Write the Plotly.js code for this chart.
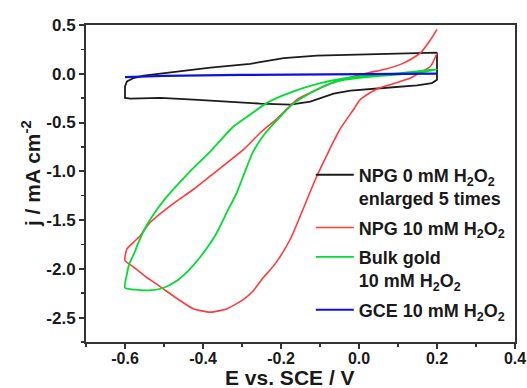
<!DOCTYPE html>
<html>
<head>
<meta charset="utf-8">
<script src="https://cdn.plot.ly/plotly-3.0.1.min.js"></script>
<style>html,body{margin:0;padding:0;background:#fff;}#chart{width:527px;height:388px;}</style>
</head>
<body>
<div id="chart"></div>
<script>
// NPG 0 mM H2O2 (enlarged 5 times) - closed CV loop
const npg0X = [0.2, 0.063, -0.108, -0.193, -0.279, -0.381, -0.467, -0.552, -0.578, -0.595, -0.6, -0.6, -0.586, -0.509, -0.424, -0.338, -0.253, -0.176, -0.125, -0.065, -0.022, 0.063, 0.149, 0.187, 0.2, 0.2];
const npg0Y = [0.217, 0.207, 0.187, 0.160, 0.102, 0.064, 0.023, -0.020, -0.044, -0.079, -0.130, -0.248, -0.255, -0.248, -0.265, -0.286, -0.306, -0.316, -0.286, -0.204, -0.173, -0.146, -0.119, -0.095, -0.061, 0.217];

// NPG 10 mM H2O2
const npg10X = [0.2, 0.183, 0.157, 0.132, 0.088, 0.046, 0.003, -0.014, -0.049, -0.108, -0.133, -0.176, -0.215, -0.248, -0.271, -0.297, -0.338, -0.381, -0.425, -0.466, -0.509, -0.548, -0.583, -0.6,
  -0.595, -0.578, -0.561, -0.535, -0.484, -0.424, -0.381, -0.296, -0.253, -0.210, -0.159, -0.099, -0.056, 0.021, 0.067, 0.114, 0.157, 0.183, 0.2];
const npg10Y = [0.211, 0.074, 0.015, -0.044, -0.102, -0.156, -0.265, -0.367, -0.571, -1.048, -1.286, -1.694, -1.949, -2.102, -2.224, -2.316, -2.408, -2.444, -2.408, -2.306, -2.184, -2.077, -1.966, -1.915,
  -1.796, -1.728, -1.660, -1.523, -1.354, -1.184, -1.048, -0.776, -0.605, -0.459, -0.265, -0.146, -0.077, 0.007, 0.046, 0.109, 0.211, 0.347, 0.456];

// Bulk gold 10 mM H2O2
const bulkX = [0.2, 0.157, 0.106, 0.042, -0.035, -0.074, -0.117, -0.168, -0.209, -0.243, -0.271, -0.297, -0.315, -0.335, -0.368, -0.407, -0.438, -0.471, -0.504, -0.543, -0.574, -0.6,
  -0.595, -0.589, -0.577, -0.567, -0.551, -0.527, -0.502, -0.471, -0.433, -0.381, -0.322, -0.279, -0.235, -0.168, -0.099, -0.035, 0.029, 0.106, 0.2];
const bulkY = [0.046, 0.015, -0.005, -0.026, -0.061, -0.102, -0.181, -0.306, -0.469, -0.622, -0.796, -1.051, -1.235, -1.388, -1.653, -1.878, -2.020, -2.133, -2.199, -2.221, -2.214, -2.194,
  -2.051, -1.949, -1.847, -1.745, -1.602, -1.444, -1.306, -1.163, -1.0, -0.796, -0.541, -0.418, -0.296, -0.181, -0.097, -0.046, -0.015, 0.007, 0.046];

// GCE 10 mM H2O2
const gceX = [-0.6, -0.5, -0.3, 0.0, 0.2];
const gceY = [-0.034, -0.022, -0.012, -0.004, 0.002];

const xTickVals = [-0.6, -0.4, -0.2, 0.0, 0.2, 0.4];
const xTickText = ['-0.6', '-0.4', '-0.2', '0.0', '0.2', '0.4'];
const yTickVals = [0.5, 0.0, -0.5, -1.0, -1.5, -2.0, -2.5];
const yTickText = ['0.5', '0.0', '-0.5', '-1.0', '-1.5', '-2.0', '-2.5'];
const xTitle = 'E vs. SCE / V';
const yTitle = 'j / mA cm<sup>-2</sup>';

const traces = [
  {x: npg0X, y: npg0Y, mode: 'lines', legendgroup: 'a', name: 'NPG 0 mM H<sub>2</sub>O<sub>2</sub><br>enlarged 5 times', line: {color: '#1c1c1c', width: 1.8}},
  {x: npg10X, y: npg10Y, mode: 'lines', legendgroup: 'b', name: 'NPG 10 mM H<sub>2</sub>O<sub>2</sub>', line: {color: '#ff3a3a', width: 1.6, shape: 'spline', smoothing: 0.6}},
  {x: bulkX, y: bulkY, mode: 'lines', legendgroup: 'c', name: 'Bulk gold<br>10 mM H<sub>2</sub>O<sub>2</sub>', line: {color: '#00dd33', width: 1.8, shape: 'spline', smoothing: 0.6}},
  {x: gceX, y: gceY, mode: 'lines', legendgroup: 'd', name: 'GCE 10 mM H<sub>2</sub>O<sub>2</sub>', line: {color: '#1010e0', width: 2.2}}
];

const fontFam = 'Liberation Sans, Arial, sans-serif';
const layout = {
  width: 527, height: 388,
  margin: {l: 86, r: 12, t: 25, b: 46, pad: 0},
  paper_bgcolor: '#ffffff', plot_bgcolor: '#ffffff',
  font: {family: fontFam, color: '#1a1a1a', size: 16, weight: 'bold'},
  showlegend: true,
  legend: {
    x: 0.524, y: 0.585, xanchor: 'left', yanchor: 'top',
    bgcolor: 'rgba(0,0,0,0)', borderwidth: 0,
    font: {family: fontFam, size: 18, color: '#1a1a1a', weight: 'bold'},
    valign: 'top', tracegroupgap: 3, itemwidth: 38
  },
  xaxis: {
    range: [-0.7, 0.4], showgrid: false, zeroline: false,
    showline: true, mirror: true, linecolor: '#333', linewidth: 2,
    tickmode: 'array', tickvals: xTickVals, ticktext: xTickText,
    ticks: 'outside', ticklen: 5, tickwidth: 2, tickcolor: '#333', ticklabelstandoff: -4,
    tickfont: {size: 16, weight: 'bold', family: fontFam},
    minor: {ticks: 'outside', ticklen: 3, tickwidth: 1.5, tickcolor: '#333', tickmode: 'linear', tick0: 0, dtick: 0.1}
  },
  yaxis: {
    range: [-2.75, 0.5], showgrid: false, zeroline: false,
    showline: true, mirror: true, linecolor: '#333', linewidth: 2,
    tickmode: 'array', tickvals: yTickVals, ticktext: yTickText,
    ticks: 'outside', ticklen: 5, tickwidth: 2, tickcolor: '#333',
    tickfont: {size: 17, weight: 'bold', family: fontFam},
    minor: {ticks: 'outside', ticklen: 3, tickwidth: 1.5, tickcolor: '#333', tickmode: 'linear', tick0: 0, dtick: 0.25}
  },
  annotations: [
    {text: xTitle, xref: 'paper', yref: 'paper', x: 0.4755, y: -0.152, xanchor: 'center', yanchor: 'bottom',
     showarrow: false, borderpad: 0, font: {size: 21, weight: 'bold', family: fontFam, color: '#1a1a1a'}},
    {text: yTitle, xref: 'paper', yref: 'paper', x: -0.128, y: 0.53, xanchor: 'center', yanchor: 'middle',
     textangle: -90, showarrow: false, font: {size: 21, weight: 'bold', family: fontFam, color: '#1a1a1a'}}
  ]
};

Plotly.newPlot('chart', traces, layout, {staticPlot: true, displayModeBar: false});
</script>
</body>
</html>
